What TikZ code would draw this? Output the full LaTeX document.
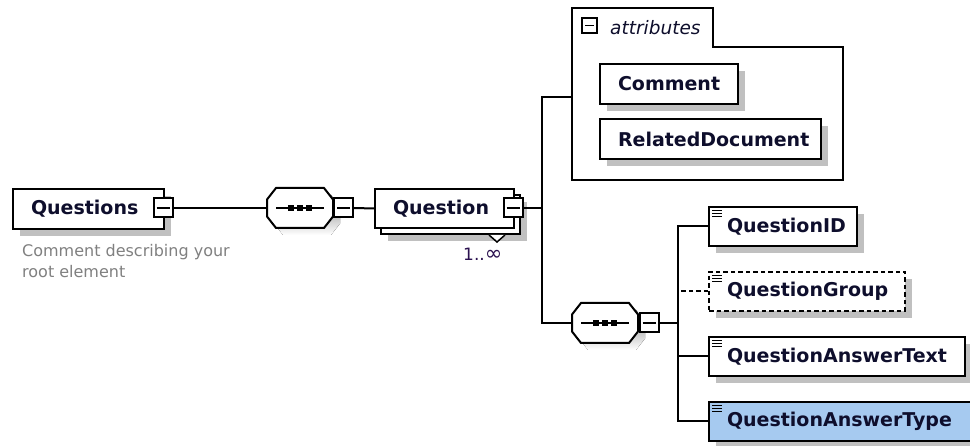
\documentclass[tikz,border=0pt]{standalone}
\usepackage{fontspec}
\setmainfont{DejaVu Sans}
\usetikzlibrary{shadows,calc}

\definecolor{shade}{RGB}{192,192,192}
\definecolor{ink}{RGB}{14,14,44}
\definecolor{selblue}{RGB}{166,202,240}
\definecolor{notegray}{RGB}{128,128,128}
\definecolor{occur}{RGB}{44,18,80}

\tikzset{
  wire/.style={line width=2pt},
  dashwire/.style={line width=2pt, dash pattern=on 4.5pt off 3pt},
  shadowed/.style={drop shadow={shadow xshift=7pt, shadow yshift=-7pt, fill=shade, opacity=1}},
  elbase/.style={draw, line width=2pt, fill=white, anchor=north west,
    minimum height=40pt, inner xsep=18pt, inner ysep=0pt, align=left,
    font=\fontsize{19}{23}\selectfont\bfseries, text=ink},
  elbox/.style={elbase, shadowed},
  childbox/.style={elbox, minimum height=39pt,
    path picture={\foreach \k in {3.5,6.5,9.5}
      \draw[solid, line width=1.3pt] ([xshift=3pt,yshift=-\k pt]path picture bounding box.north west) -- ++(10pt,0);}},
  stackbox/.style={draw, line width=2pt, fill=white, shadowed, anchor=north west,
    minimum width=139pt, minimum height=39pt, inner sep=0pt},
  minus/.style={draw, line width=2pt, fill=white, minimum size=19pt, inner sep=0pt,
    path picture={\draw[line width=1.8pt] ([xshift=3pt]path picture bounding box.west)
      -- ([xshift=-3pt]path picture bounding box.east);}},
  seqslot/.style={minimum width=66pt, minimum height=40pt, inner sep=0pt},
  seqgroup/.pic={
    \fill[shade, shift={(7,7)}] (-33,-8.5) -- (-24,-20) -- (24,-20) -- (33,-8.5)
      -- (33,8.5) -- (24,20) -- (-24,20) -- (-33,8.5) -- cycle;
    \draw[line width=2pt, fill=white] (-33,-8.5) -- (-24,-20) -- (24,-20) -- (33,-8.5)
      -- (33,8.5) -- (24,20) -- (-24,20) -- (-33,8.5) -- cycle;
    \draw[line width=2pt] (-24,0) -- (24,0);
    \foreach \c in {-9,0,9} \fill (\c-2.8,-2.8) rectangle (\c+2.8,2.8);
  }
}

\begin{document}
\begin{tikzpicture}[x=1pt, y=-1pt]
  \fill[white] (0,0) rectangle (970,446);
  \useasboundingbox (0,0) rectangle (970,446);

  % root element
  \node[elbox, text width=115pt] (questions) at (12,188) {Questions};
  \node[minus] (qsm) at (163,208) {};
  \node[anchor=north west, inner sep=0pt, align=left, font=\fontsize{16}{21}\selectfont,
    text=notegray] (qnote) at (22,244) {Comment describing your\\root element};

  % first sequence compositor
  \node[seqslot] (s1) at (300,208) {};
  \pic at (s1.center) {seqgroup};
  \node[minus] (m1) at (343.5,208) {};
  \draw[wire] (qsm.east) -- (s1.west);

  % repeated Question element: stacked back sheet carries the shadow
  \node[stackbox] (qback) at (380,194) {};
  \draw[line width=1.5pt, fill=white] ([xshift=-32pt]qback.south east)
    -- ([xshift=-24pt,yshift=-7pt]qback.south east) -- ([xshift=-16pt]qback.south east);
  \node[elbase, minimum height=39pt, text width=103pt] (question) at (374,188) {Question};
  \node[minus] (qm) at (513,208) {};
  \node[anchor=base west, inner sep=0pt, font=\fontsize{17}{20}\selectfont, text=occur]
    (occ) at (463,261) {1..{\fontsize{21}{20}\selectfont ∞}};
  \draw[wire] (m1.east) -- (question.west);

  % attributes group
  \draw[wire, fill=white] (572,8) -- (713,8) -- (713,47) -- (843,47) -- (843,180)
    -- (572,180) -- cycle;
  \node[minus, minimum size=15pt] (am) at (589.5,25.5) {};
  \node[anchor=base west, inner sep=0pt, font=\fontsize{18.5}{22}\selectfont\itshape,
    text=ink] (attrlabel) at (610,35) {attributes};
  \node[elbox, text width=102pt] (comment) at (599,63) {Comment};
  \node[elbox, text width=185pt] (reldoc) at (599,118) {RelatedDocument};

  % second sequence compositor
  \node[seqslot] (s2) at (605,323) {};
  \pic at (s2.center) {seqgroup};
  \node[minus] (m2) at (649,323) {};

  \coordinate (j1) at (542,208);
  \coordinate (attrin) at (572,97);
  \draw[wire] (qm.east) -- (j1);
  \draw[wire] (attrin) -| (j1) |- (s2.west);

  % child elements
  \node[childbox, text width=112pt] (qid) at (708,206) {QuestionID};
  \node[childbox, dash pattern=on 4.5pt off 3pt, text width=160pt] (qgrp) at (708,271) {QuestionGroup};
  \node[childbox, text width=220pt] (qat) at (708,336) {QuestionAnswerText};
  \node[childbox, fill=selblue, text width=234pt] (qtype) at (708,401) {QuestionAnswerType};

  \coordinate (j2) at (678,323);
  \draw[wire] (m2.east) -- (j2);
  \draw[wire] (qid.west) -| (j2) |- (qtype.west);
  \draw[wire] (j2) |- (qat.west);
  \draw[dashwire] (qgrp.west) -- (qgrp.west -| j2);
\end{tikzpicture}
\end{document}
